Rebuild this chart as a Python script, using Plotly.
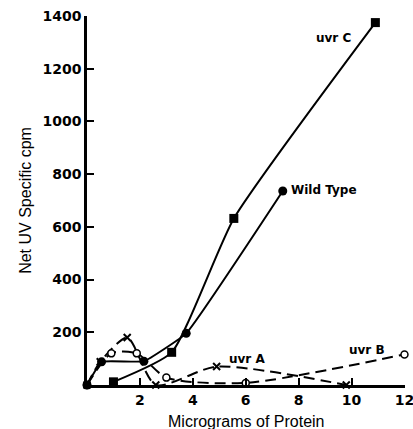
import plotly.graph_objects as go

# Data
wt_x = [0, 0.55, 2.15, 3.75, 7.4]
wt_y = [0, 88, 90, 196, 736]
uvrc_x = [1.0, 3.2, 5.55, 10.9]
uvrc_y = [12, 124, 632, 1375]
uvra_x = [0, 0.5, 1.52, 2.6, 4.9, 9.8]
uvra_y = [0, 88, 180, 0, 70, 0]
uvrb_x = [0, 0.92, 1.88, 3.0, 6.0, 12.0]
uvrb_y = [0, 120, 120, 28, 8, 116]

x_ticks = [2, 4, 6, 8, 10, 12]
y_ticks = [200, 400, 600, 800, 1000, 1200, 1400]

fig = go.Figure()
fig.add_trace(go.Scatter(x=uvra_x, y=uvra_y, mode="lines+markers",
                         line=dict(color="black", width=2, dash="11px,6px", shape="spline", smoothing=0.7),
                         marker=dict(symbol="x-thin", size=7, line=dict(color="black", width=2)),
                         cliponaxis=False, showlegend=False))
fig.add_trace(go.Scatter(x=uvrb_x, y=uvrb_y, mode="lines+markers",
                         line=dict(color="black", width=2, dash="11px,6px", shape="spline", smoothing=0.7),
                         marker=dict(symbol="circle", size=7, color="white", line=dict(color="black", width=1.5)),
                         cliponaxis=False, showlegend=False))
fig.add_trace(go.Scatter(x=wt_x, y=wt_y, mode="lines+markers",
                         line=dict(color="black", width=2, shape="spline", smoothing=0.3),
                         marker=dict(symbol="circle", size=9, color="black"),
                         cliponaxis=False, showlegend=False))
fig.add_trace(go.Scatter(x=uvrc_x, y=uvrc_y, mode="lines+markers",
                         line=dict(color="black", width=2, shape="spline", smoothing=0.5),
                         marker=dict(symbol="square", size=9, color="black"),
                         cliponaxis=False, showlegend=False))

ann_font = dict(family="DejaVu Sans", size=12, color="black", weight="bold")
fig.add_annotation(x=9.32, y=1316, text="uvr C", showarrow=False, font=ann_font)
fig.add_annotation(x=7.62, y=740, text="Wild Type", showarrow=False, xanchor="left", font=ann_font)
fig.add_annotation(x=6.04, y=99, text="uvr A", showarrow=False, font=ann_font)
fig.add_annotation(x=10.6, y=133, text="uvr B", showarrow=False, font=ann_font)

tick_font = dict(family="DejaVu Sans", size=14, color="black", weight="bold")
title_font = dict(family="Liberation Sans", size=16, color="black")

fig.add_annotation(xref="paper", yref="paper", x=0.5, y=0, yshift=-36, yanchor="middle",
                   text="Micrograms of Protein", showarrow=False, font=title_font)

fig.update_layout(
    width=413, height=429,
    margin=dict(l=87, r=8, t=16, b=44),
    plot_bgcolor="white", paper_bgcolor="white",
    xaxis=dict(range=[0, 12.02], tickvals=x_ticks, ticktext=[str(v) for v in x_ticks],
               ticks="inside", ticklen=7, tickwidth=2, tickcolor="black",
               showline=True, linecolor="black", linewidth=2.5, showgrid=False, zeroline=False,
               tickfont=tick_font, automargin=False, ticklabeloverflow="allow"),
    yaxis=dict(range=[0, 1400], tickvals=y_ticks, ticktext=[str(v) for v in y_ticks],
               ticks="inside", ticklen=7, tickwidth=2, tickcolor="black",
               showline=True, linecolor="black", linewidth=2.5, showgrid=False, zeroline=False,
               tickfont=tick_font, automargin=False, ticklabeloverflow="allow",
               title=dict(text="Net UV Specific cpm", font=title_font, standoff=7)),
)

# remove the default page margin so the figure fills the window exactly
fig.write_html("out.html", config={"displayModeBar": False},
               post_script="document.body.style.margin='0';document.body.style.overflow='hidden';")
